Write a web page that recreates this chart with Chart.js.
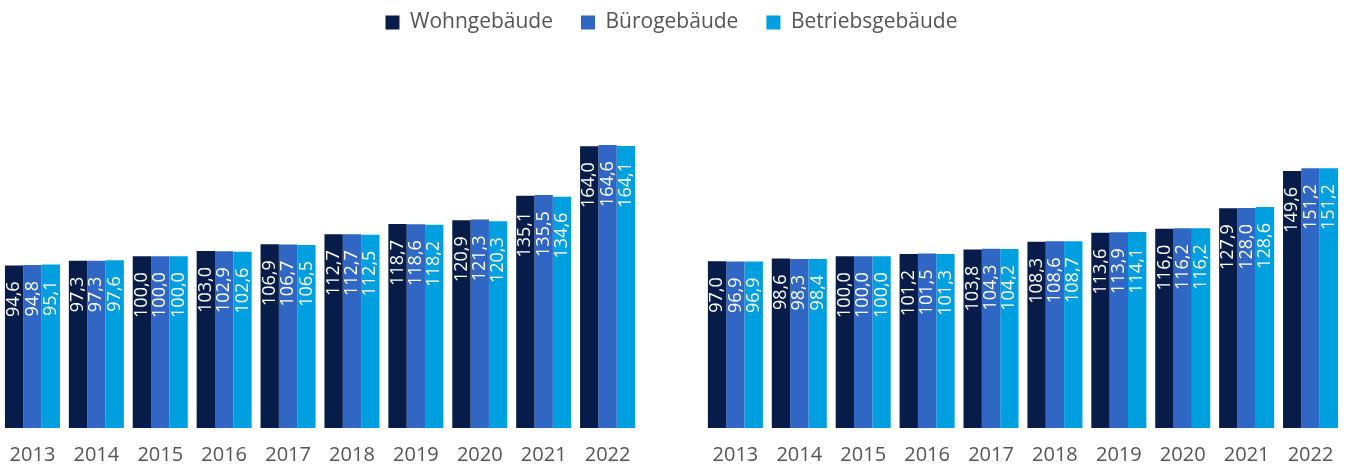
<!DOCTYPE html>
<html>
<head>
<meta charset="utf-8">
<script src="https://cdn.jsdelivr.net/npm/chart.js@4/dist/chart.umd.min.js"></script>
<style>
  html, body { margin: 0; padding: 0; background: #fff; }
  #wrap { position: relative; width: 1353px; height: 466px; }
</style>
</head>
<body>
<div id="wrap"><canvas id="chart"></canvas></div>
<script>
// years for each panel
const years = ["2013", "2014", "2015", "2016", "2017", "2018", "2019", "2020", "2021", "2022"];
const seriesNames = ["Wohngebäude", "Bürogebäude", "Betriebsgebäude"];

// left panel
const wohnLeft = [94.6, 97.3, 100.0, 103.0, 106.9, 112.7, 118.7, 120.9, 135.1, 164.0];
const bueroLeft = [94.8, 97.3, 100.0, 102.9, 106.7, 112.7, 118.6, 121.3, 135.5, 164.6];
const betriebLeft = [95.1, 97.6, 100.0, 102.6, 106.5, 112.5, 118.2, 120.3, 134.6, 164.1];

// right panel
const wohnRight = [97.0, 98.6, 100.0, 101.2, 103.8, 108.3, 113.6, 116.0, 127.9, 149.6];
const bueroRight = [96.9, 98.3, 100.0, 101.5, 104.3, 108.6, 113.9, 116.2, 128.0, 151.2];
const betriebRight = [96.9, 98.4, 100.0, 101.3, 104.2, 108.7, 114.1, 116.2, 128.6, 151.2];

const colors = ["#071c48", "#3067c4", "#009fdf"];

// both panels share one axis, an empty slot keeps them apart
const labels = [...years, "", ...years];
const join = (a, b) => [...a, null, ...b];

const fmt = (v) => v.toFixed(1).replace(".", ",");

const barLabels = {
  id: "barLabels",
  afterDatasetsDraw(chart) {
    const ctx = chart.ctx;
    ctx.save();
    ctx.fillStyle = "#ffffff";
    ctx.font = "18px 'Open Sans'";
    ctx.textAlign = "right";
    ctx.textBaseline = "middle";
    chart.data.datasets.forEach((ds, i) => {
      const meta = chart.getDatasetMeta(i);
      meta.data.forEach((bar, j) => {
        const v = ds.data[j];
        if (v == null) return;
        ctx.save();
        ctx.translate(bar.x, bar.y + 16);
        ctx.rotate(-Math.PI / 2);
        ctx.fillText(fmt(v), 0, 0);
        ctx.restore();
      });
    });
    ctx.restore();
  }
};

new Chart(document.getElementById("chart"), {
  type: "bar",
  data: {
    labels: labels,
    datasets: [
      { label: seriesNames[0], data: join(wohnLeft, wohnRight), backgroundColor: colors[0] },
      { label: seriesNames[1], data: join(bueroLeft, bueroRight), backgroundColor: colors[1] },
      { label: seriesNames[2], data: join(betriebLeft, betriebRight), backgroundColor: colors[2] }
    ]
  },
  options: {
    responsive: true,
    maintainAspectRatio: false,
    animation: false,
    datasets: {
      bar: { categoryPercentage: 0.861, barPercentage: 1.0 }
    },
    layout: {
      padding: { top: -16, left: 0.5, right: 10.5, bottom: -16 }
    },
    plugins: {
      legend: {
        position: "top",
        labels: {
          boxWidth: 14,
          boxHeight: 14,
          padding: 28,
          color: "#555555",
          font: { family: "'Open Sans'", size: 21 }
        }
      },
      tooltip: { enabled: false }
    },
    scales: {
      x: {
        grid: { display: false, drawTicks: false },
        border: { display: false },
        ticks: {
          color: "#555555",
          padding: 15,
          autoSkip: false,
          maxRotation: 0,
          font: { family: "'Open Sans'", size: 20 }
        },
        afterFit(axis) {
          // no extra side room for the outer tick labels
          axis.paddingLeft = 0;
          axis.paddingRight = 0;
        }
      },
      y: {
        display: false,
        min: 0,
        max: 224
      }
    }
  },
  plugins: [barLabels]
});
</script>
</body>
</html>
